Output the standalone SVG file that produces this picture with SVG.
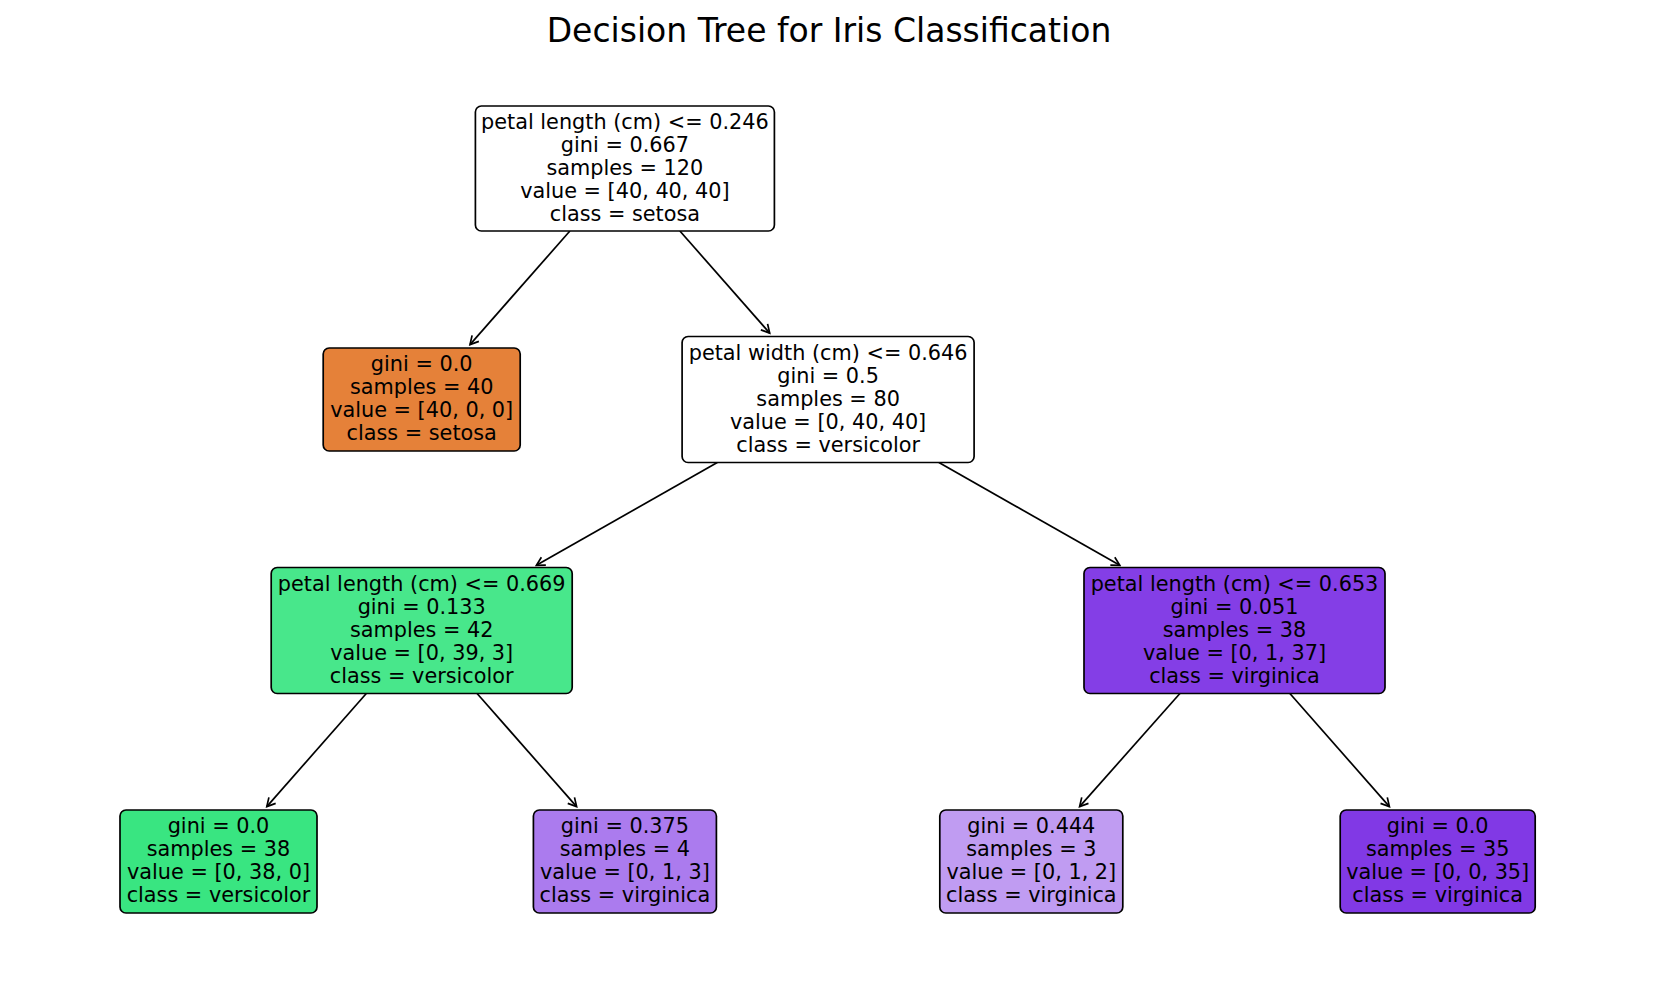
<svg xmlns="http://www.w3.org/2000/svg" width="1657" height="992" viewBox="0 0 1657 992">
<style>
.box{stroke:#000;stroke-width:1.7}
.t{font-family:"DejaVu Sans","Liberation Sans",sans-serif;font-size:20.8px;fill:#000;text-anchor:middle}
.title{font-family:"DejaVu Sans","Liberation Sans",sans-serif;font-size:33px;fill:#000;text-anchor:middle}
.edge{stroke:#000;stroke-width:1.7;fill:none}
</style>
<defs>
<marker id="ah" markerUnits="userSpaceOnUse" viewBox="-10 -6 12 12" refX="0" refY="0" markerWidth="12" markerHeight="12" orient="auto">
<path d="M -8.3 -4.5 L 0 0 L -8.3 4.5" fill="none" stroke="#000" stroke-width="1.7"/>
</marker>
</defs>
<rect width="1657" height="992" fill="#fff"/>
<text class="title" x="829" y="41.7">Decision Tree for Iris Classification</text>
<g id="connectors">
<line class="edge" x1="569.9" y1="231" x2="470.0" y2="344.6" marker-end="url(#ah)"/>
<line class="edge" x1="679.9" y1="231" x2="769.7" y2="333.1" marker-end="url(#ah)"/>
<line class="edge" x1="717.3" y1="462.5" x2="536.4" y2="565.3" marker-end="url(#ah)"/>
<line class="edge" x1="938.9" y1="462.5" x2="1119.8" y2="565.3" marker-end="url(#ah)"/>
<line class="edge" x1="366.3" y1="693.5" x2="266.8" y2="806.6" marker-end="url(#ah)"/>
<line class="edge" x1="477.1" y1="693.5" x2="576.6" y2="806.6" marker-end="url(#ah)"/>
<line class="edge" x1="1179.9" y1="693.5" x2="1079.6" y2="806.6" marker-end="url(#ah)"/>
<line class="edge" x1="1289.9" y1="693.5" x2="1389.4" y2="806.6" marker-end="url(#ah)"/>
</g>
<g id="node0">
<rect class="box" x="475.4" y="106" width="299" height="125" rx="6" fill="#ffffff"/>
<text class="t"><tspan x="624.9" y="129.3">petal length (cm) &lt;= 0.246</tspan><tspan x="624.9" y="152.2">gini = 0.667</tspan><tspan x="624.9" y="175.1">samples = 120</tspan><tspan x="624.9" y="198">value = [40, 40, 40]</tspan><tspan x="624.9" y="220.9">class = setosa</tspan></text>
</g>
<g id="node1">
<rect class="box" x="323.2" y="348" width="197" height="103" rx="6" fill="#e58139"/>
<text class="t"><tspan x="421.7" y="371.3">gini = 0.0</tspan><tspan x="421.7" y="394.2">samples = 40</tspan><tspan x="421.7" y="417.1">value = [40, 0, 0]</tspan><tspan x="421.7" y="440">class = setosa</tspan></text>
</g>
<g id="node2">
<rect class="box" x="682.1" y="336.5" width="292" height="126" rx="6" fill="#ffffff"/>
<text class="t"><tspan x="828.1" y="360.3">petal width (cm) &lt;= 0.646</tspan><tspan x="828.1" y="383.2">gini = 0.5</tspan><tspan x="828.1" y="406.1">samples = 80</tspan><tspan x="828.1" y="429">value = [0, 40, 40]</tspan><tspan x="828.1" y="451.9">class = versicolor</tspan></text>
</g>
<g id="node3">
<rect class="box" x="271.2" y="567.5" width="301" height="126" rx="6" fill="#48e78b"/>
<text class="t"><tspan x="421.7" y="591.3">petal length (cm) &lt;= 0.669</tspan><tspan x="421.7" y="614.2">gini = 0.133</tspan><tspan x="421.7" y="637.1">samples = 42</tspan><tspan x="421.7" y="660">value = [0, 39, 3]</tspan><tspan x="421.7" y="682.9">class = versicolor</tspan></text>
</g>
<g id="node4">
<rect class="box" x="1084" y="567.5" width="301" height="126" rx="6" fill="#843ee6"/>
<text class="t"><tspan x="1234.5" y="591.3">petal length (cm) &lt;= 0.653</tspan><tspan x="1234.5" y="614.2">gini = 0.051</tspan><tspan x="1234.5" y="637.1">samples = 38</tspan><tspan x="1234.5" y="660">value = [0, 1, 37]</tspan><tspan x="1234.5" y="682.9">class = virginica</tspan></text>
</g>
<g id="node5">
<rect class="box" x="120" y="810" width="197" height="103" rx="6" fill="#39e581"/>
<text class="t"><tspan x="218.5" y="833.3">gini = 0.0</tspan><tspan x="218.5" y="856.2">samples = 38</tspan><tspan x="218.5" y="879.1">value = [0, 38, 0]</tspan><tspan x="218.5" y="902">class = versicolor</tspan></text>
</g>
<g id="node6">
<rect class="box" x="533.4" y="810" width="183" height="103" rx="6" fill="#ab7bee"/>
<text class="t"><tspan x="624.9" y="833.3">gini = 0.375</tspan><tspan x="624.9" y="856.2">samples = 4</tspan><tspan x="624.9" y="879.1">value = [0, 1, 3]</tspan><tspan x="624.9" y="902">class = virginica</tspan></text>
</g>
<g id="node7">
<rect class="box" x="939.8" y="810" width="183" height="103" rx="6" fill="#c09cf2"/>
<text class="t"><tspan x="1031.3" y="833.3">gini = 0.444</tspan><tspan x="1031.3" y="856.2">samples = 3</tspan><tspan x="1031.3" y="879.1">value = [0, 1, 2]</tspan><tspan x="1031.3" y="902">class = virginica</tspan></text>
</g>
<g id="node8">
<rect class="box" x="1340.2" y="810" width="195" height="103" rx="6" fill="#8139e5"/>
<text class="t"><tspan x="1437.7" y="833.3">gini = 0.0</tspan><tspan x="1437.7" y="856.2">samples = 35</tspan><tspan x="1437.7" y="879.1">value = [0, 0, 35]</tspan><tspan x="1437.7" y="902">class = virginica</tspan></text>
</g>
</svg>
